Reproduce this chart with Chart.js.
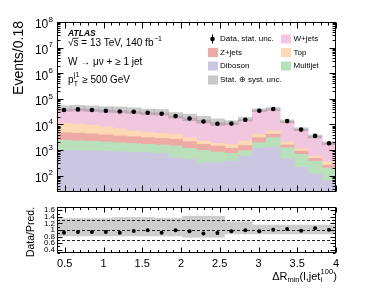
<!DOCTYPE html>
<html><head><meta charset="utf-8">
<script src="https://cdn.jsdelivr.net/npm/chart.js@4/dist/chart.umd.min.js"></script>
<style>
html,body{margin:0;padding:0;background:#fff;}
#wrap{position:relative;width:374px;height:290px;overflow:hidden;background:#fff;}
#mainBox{position:absolute;left:0;top:0;width:374px;height:196px;}
#ratioBox{position:absolute;left:0;top:195px;width:374px;height:95px;}
</style></head><body>
<div id="wrap"><div id="mainBox"><canvas id="main"></canvas></div><div id="ratioBox"><canvas id="ratio"></canvas></div></div>
<script>
// ---------------- data ----------------
const binCenters = [0.49,0.67,0.85,1.03,1.21,1.39,1.57,1.75,1.93,2.11,2.29,2.47,2.65,2.83,3.01,3.19,3.37,3.55,3.73,3.91];
const dataEvents = [36600,38600,36600,34300,32200,31300,28600,26100,21200,17100,13000,10600,10800,15200,34300,40000,13500,6300,3560,1840];
const diboson  = [973,955,931,897,857,819,783,728,498,430,316,316,369,581,1167,1313,454,214,117,64];
const multijet = [1437,1345,1269,1168,1063,981,892,847,938,737,657,518,372,357,770,1737,779,464,252,137];
const zjets    = [2390,2240,2070,1835,1640,1510,1375,1265,1204,953,702,602,426,565,1113,1100,342,236,102,55];
const topq     = [6450,5740,4950,4150,3150,2290,1750,1630,1510,930,585,401,508,757,1100,1450,490,211,110,90];
const wjets    = [28530,30780,29720,28440,28290,26670,24090,23900,17260,14760,12350,9810,9575,13090,31580,34000,11045,5305,2809,1474];
const ratioVals = [0.92,0.94,0.94,0.94,0.92,0.97,0.99,0.92,0.99,0.96,0.89,0.91,0.96,0.99,0.96,1.01,1.03,0.98,1.05,1.01];
const uncLow  = [0.82,0.82,0.82,0.82,0.82,0.82,0.82,0.82,0.82,0.78,0.78,0.78,0.88,0.88,0.88,0.88,0.88,0.88,0.88,0.88];
const uncHigh = [1.35,1.35,1.35,1.35,1.38,1.38,1.38,1.36,1.36,1.42,1.42,1.42,1.25,1.25,1.15,1.15,1.15,1.15,1.15,1.15];
const xTickValues = [0.5,1,1.5,2,2.5,3,3.5,4];
const xTickLabels = ['0.5','1','1.5','2','2.5','3','3.5','4'];
const yTickValues = [1e2,1e3,1e4,1e5,1e6,1e7,1e8];
const ratioTickValues = [0.4,0.6,0.8,1.0,1.2,1.4,1.6];
const ratioTickLabels = ['0.4','0.6','0.8','1','1.2','1.4','1.6'];
const ratioRefLines = [0.7,1.0,1.3];

// ---------------- style ----------------
const FONT = '"Liberation Sans", Arial, Helvetica, sans-serif';
const COL = {wjets:'#f1c7e0', zjets:'#eeaaa4', top:'#fdd8b4', diboson:'#ccc7e0', multijet:'#b9e0bb', unc:'#c8c8c8'};
Chart.defaults.font.family = FONT;
Chart.defaults.animation = false;

const xy = arr => binCenters.map((x,i)=>({x, y:arr[i]}));
const mcTotal = binCenters.map((_,i)=>diboson[i]+multijet[i]+zjets[i]+topq[i]+wjets[i]);

function txt(ctx, s, x, y, size, o={}) {
  ctx.font = `${o.style||'normal'} ${o.weight||'normal'} ${size}px ${FONT}`;
  ctx.textAlign = o.align || 'left';
  ctx.textBaseline = o.baseline || 'middle';
  ctx.fillStyle = o.color || '#000';
  ctx.fillText(s, x, y);
  return ctx.measureText(s).width;
}
function meas(ctx, s, size, o={}) {
  ctx.font = `${o.style||'normal'} ${o.weight||'normal'} ${size}px ${FONT}`;
  return ctx.measureText(s).width;
}
function frameAndXTicks(ctx, a, x, majLen, minLen) {
  const L = Math.round(a.left)+0.5, R = Math.round(a.right)-0.5, T = Math.round(a.top)+0.5, B = Math.round(a.bottom)-0.5;
  ctx.strokeStyle = '#000'; ctx.lineWidth = 1;
  ctx.strokeRect(L, T, R-L, B-T);
  ctx.beginPath();
  for (let k = 4; k <= 40; k++) {
    const v = k/10;
    const isMaj = xTickValues.some(t => Math.abs(t-v) < 1e-6);
    const len = isMaj ? majLen : minLen;
    const px = Math.round(x.getPixelForValue(v)) + 0.5;
    ctx.moveTo(px, B); ctx.lineTo(px, B-len);
    ctx.moveTo(px, T); ctx.lineTo(px, T+len);
  }
  ctx.stroke();
  return {L,R,T,B};
}

const legendEntries = [
  {label:'Data, stat. unc.', kind:'data', col:0, row:0},
  {label:'W+jets', color:COL.wjets, col:1, row:0},
  {label:'Z+jets', color:COL.zjets, col:0, row:1},
  {label:'Top', color:COL.top, col:1, row:1},
  {label:'Diboson', color:COL.diboson, col:0, row:2},
  {label:'Multijet', color:COL.multijet, col:1, row:2},
  {label:'Stat. \u2295 syst. unc.', color:COL.unc, col:0, row:3}
];

const mainDeco = {
  id:'mainDeco',
  afterDraw(chart) {
    const {ctx, chartArea:a, scales:{x,y}} = chart;
    ctx.save();
    const {L,R,T,B} = frameAndXTicks(ctx, a, x, 6, 3);
    // y ticks (log)
    ctx.beginPath();
    for (let e = 1; e <= 8; e++) {
      for (let m = 1; m <= 9; m++) {
        const v = m*Math.pow(10,e);
        if (v < y.min || v > y.max*1.0001) continue;
        const py = Math.round(y.getPixelForValue(v)) + 0.5;
        const len = m === 1 ? 6 : 3;
        ctx.moveTo(L, py); ctx.lineTo(L+len, py);
        ctx.moveTo(R, py); ctx.lineTo(R-len, py);
      }
    }
    ctx.stroke();
    // y tick labels 10^n
    for (const v of yTickValues) {
      const py = y.getPixelForValue(v);
      const ex = String(Math.round(Math.log10(v)));
      const w = txt(ctx, ex, 53, py-2.5, 8, {align:'right'});
      txt(ctx, '10', 53-w-0.3, py+3, 12, {align:'right'});
    }
    // y title
    ctx.save();
    ctx.translate(19, 21); ctx.rotate(-Math.PI/2);
    txt(ctx, 'Events/0.18', 0, 0, 14, {align:'right'});
    ctx.restore();
    // ATLAS label
    txt(ctx, 'ATLAS', 68, 33.5, 8.5, {style:'italic', weight:'bold'});
    let cx = 68;
    const wr = txt(ctx, '\u221A', cx, 43, 10);
    const ws = meas(ctx, 's', 10);
    ctx.beginPath(); ctx.lineWidth = 0.8; ctx.moveTo(cx+wr-0.5, 38.3); ctx.lineTo(cx+wr+ws, 38.3); ctx.stroke();
    cx += wr;
    cx += txt(ctx, 's = 13 TeV, 140 fb', cx, 43, 10);
    txt(ctx, '\u22121', cx+0.5, 39, 7);
    txt(ctx, 'W \u2192 \u03BC\u03BD + \u2265 1 jet', 68, 62, 10);
    cx = 68;
    cx += txt(ctx, 'p', cx, 80, 10);
    const w1 = txt(ctx, 'j1', cx+0.3, 75.5, 7);
    const w2 = txt(ctx, 'T', cx+0.3, 84.5, 7);
    cx += Math.max(w1, w2) + 0.5;
    txt(ctx, ' \u2265 500 GeV', cx, 80, 10);
    // legend
    const colBoxX = [208, 281], colTextX = [220, 293.5], rowY = [39, 52.5, 66, 80];
    for (const e of legendEntries) {
      const yy = rowY[e.row];
      if (e.kind === 'data') {
        const mx = 212.5;
        ctx.beginPath(); ctx.lineWidth = 1; ctx.moveTo(mx, yy-4.5); ctx.lineTo(mx, yy+4.5); ctx.stroke();
        ctx.beginPath(); ctx.fillStyle = '#000'; ctx.arc(mx, yy, 2.3, 0, Math.PI*2); ctx.fill();
      } else {
        ctx.fillStyle = e.color;
        ctx.fillRect(colBoxX[e.col], yy-4.5, 10, 9);
      }
      txt(ctx, e.label, colTextX[e.col], yy, 8);
    }
    ctx.restore();
  }
};

new Chart(document.getElementById('main'), {
  type:'bar',
  data:{datasets:[
    {label:'Diboson', data:xy(diboson), backgroundColor:COL.diboson, stack:'mc', order:3},
    {label:'Multijet', data:xy(multijet), backgroundColor:COL.multijet, stack:'mc', order:3},
    {label:'Z+jets', data:xy(zjets), backgroundColor:COL.zjets, stack:'mc', order:3},
    {label:'Top', data:xy(topq), backgroundColor:COL.top, stack:'mc', order:3},
    {label:'W+jets', data:xy(wjets), backgroundColor:COL.wjets, stack:'mc', order:3},
    {label:'Stat. unc', data:binCenters.map((x,i)=>({x, y:[mcTotal[i]*uncLow[i], mcTotal[i]*uncHigh[i]]})), backgroundColor:'rgba(130,130,130,0.42)', stack:'unc', grouped:false, order:2},
    {type:'line', label:'Data', data:xy(dataEvents), showLine:false, pointRadius:2.3, pointHoverRadius:2.3, pointBackgroundColor:'#000', pointBorderWidth:0, stack:'data', order:1}
  ]},
  options:{
    responsive:true, maintainAspectRatio:false, animation:false,
    layout:{padding:{top:22, right:38, left:0, bottom:4}},
    plugins:{legend:{display:false}, tooltip:{enabled:false}},
    datasets:{bar:{barPercentage:1, categoryPercentage:1, borderWidth:0}},
    scales:{
      x:{type:'linear', min:0.4, max:4.0, offset:false, display:false,
         afterBuildTicks:s=>{s.ticks = xTickValues.map(v=>({value:v}));}},
      y:{type:'logarithmic', min:23, max:1e8, stacked:true,
         ticks:{display:false}, grid:{display:false}, border:{display:false},
         afterFit:s=>{s.width = 57;}}
    }
  },
  plugins:[mainDeco]
});

const ratioDeco = {
  id:'ratioDeco',
  afterDatasetDraw(chart, args) {
    if (args.index !== 0) return;
    const {ctx, chartArea:a, scales:{y}} = chart;
    ctx.save();
    ctx.strokeStyle = '#222'; ctx.lineWidth = 1; ctx.setLineDash([3,2]);
    ctx.beginPath();
    for (const v of ratioRefLines) {
      const py = Math.round(y.getPixelForValue(v)) + 0.5;
      ctx.moveTo(a.left, py); ctx.lineTo(a.right, py);
    }
    ctx.stroke();
    ctx.restore();
  },
  afterDraw(chart) {
    const {ctx, chartArea:a, scales:{x,y}} = chart;
    ctx.save();
    const {L,R} = frameAndXTicks(ctx, a, x, 5, 2.5);
    ctx.beginPath();
    for (let k = 3; k <= 17; k++) {
      const v = k/10;
      const isMaj = ratioTickValues.some(t => Math.abs(t-v) < 1e-6);
      const len = isMaj ? 5 : 2.5;
      const py = Math.round(y.getPixelForValue(v)) + 0.5;
      ctx.moveTo(L, py); ctx.lineTo(L+len, py);
      ctx.moveTo(R, py); ctx.lineTo(R-len, py);
    }
    ctx.stroke();
    // y title
    ctx.save();
    ctx.translate(31, 37); ctx.rotate(-Math.PI/2);
    txt(ctx, 'Data/Pred.', 0, 0, 10.5, {align:'center'});
    ctx.restore();
    // x title: ΔR_min(l,jet_i^100)
    const F = 11, S = 7.5, yb = 81.5;
    const parts = [
      {s:'\u0394R', size:F, dy:0},
      {s:'min', size:S, dy:3},
      {s:'(l,jet', size:F, dy:0},
      {stack:[{s:'100', size:S, dy:-4.5},{s:'i', size:S, dy:3.5}]},
      {s:')', size:F, dy:0}
    ];
    let total = 0;
    const widths = parts.map(p => {
      const w = p.stack ? Math.max(...p.stack.map(q=>meas(ctx,q.s,q.size))) + 0.5 : meas(ctx,p.s,p.size);
      total += w; return w;
    });
    let cx = 337 - total;
    parts.forEach((p,i) => {
      if (p.stack) p.stack.forEach(q => txt(ctx, q.s, cx+0.3, yb+q.dy, q.size));
      else txt(ctx, p.s, cx, yb+p.dy, p.size);
      cx += widths[i];
    });
    ctx.restore();
  }
};

new Chart(document.getElementById('ratio'), {
  type:'bar',
  data:{datasets:[
    {label:'unc', data:binCenters.map((x,i)=>({x, y:[uncLow[i], uncHigh[i]]})), backgroundColor:'#cdcdcd', order:2},
    {type:'line', label:'Data/Pred', data:xy(ratioVals), showLine:false, pointRadius:2, pointHoverRadius:2, pointBackgroundColor:'#000', pointBorderWidth:0, order:1}
  ]},
  options:{
    responsive:true, maintainAspectRatio:false, animation:false,
    layout:{padding:{top:12, right:38, left:0, bottom:0}},
    plugins:{legend:{display:false}, tooltip:{enabled:false}},
    datasets:{bar:{barPercentage:1, categoryPercentage:1, borderWidth:0}},
    scales:{
      x:{type:'linear', min:0.4, max:4.0, offset:false,
         grid:{display:false, drawTicks:false}, border:{display:false},
         ticks:{color:'#000', font:{size:11}, padding:4, maxRotation:0, autoSkip:false,
                callback:(v,i)=>xTickLabels[i]},
         afterBuildTicks:s=>{s.ticks = xTickValues.map(v=>({value:v}));},
         afterFit:s=>{s.height = 37;}},
      y:{type:'linear', min:0.3, max:1.7,
         grid:{display:false, drawTicks:false}, border:{display:false},
         ticks:{color:'#000', font:{size:8}, padding:2, autoSkip:false,
                callback:(v,i)=>ratioTickLabels[i]},
         afterBuildTicks:s=>{s.ticks = ratioTickValues.map(v=>({value:v}));},
         afterFit:s=>{s.width = 57;}}
    }
  },
  plugins:[ratioDeco]
});
</script>
</body></html>
